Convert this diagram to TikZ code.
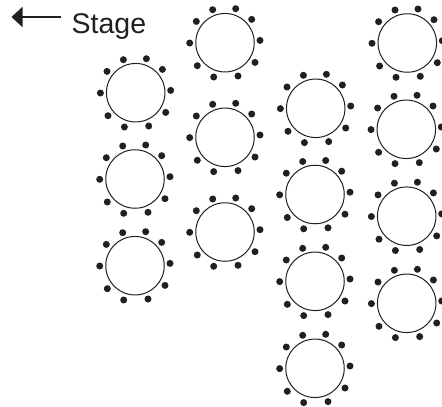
\documentclass[tikz,border=0pt]{standalone}
\usepackage{fontspec}
\setmainfont{Liberation Sans}
\usetikzlibrary{arrows.meta,calc}
\definecolor{ink}{HTML}{231F20}
\tikzset{
  seat/.style={circle,draw=ink,line width=1pt,minimum size=58.5pt,inner sep=0pt,fill=none},
  person/.style={circle,fill=ink,minimum size=7pt,inner sep=0pt,draw=none},
  stagelabel/.style={anchor=base west,inner sep=0pt,text=ink,font=\fontsize{28.5}{28.5}\selectfont},
  stagearrow/.style={draw=ink,line width=1.6pt,-{Triangle[length=11pt,width=20pt]}}
}
\newcommand{\seatgroup}[3]{%
  \node[seat] (#1) at (#2,#3) {};
  \foreach \dx/\dy [count=\i] in {-12.3/-33,10.7/-34,26.7/-23.3,35/-2.3,30/19.7,13/33.3,-11.3/34.3,-27.7/23,-35.3/0.3,-28.7/-21.3}{
    \node[person] (#1-\i) at ($(#2,#3)+(\dx,\dy)$) {};
  }%
}
\begin{document}
\begin{tikzpicture}[x=1pt,y=-1pt]
\path[use as bounding box] (0,0) rectangle (442,407);
\begin{scope}
\clip (0,0) rectangle (442,407);
\seatgroup{a1}{135.7}{92.7}
\seatgroup{a2}{135}{179}
\seatgroup{a3}{135}{265.7}
\seatgroup{b1}{225}{42.7}
\seatgroup{b2}{225}{137.3}
\seatgroup{b3}{225}{232}
\seatgroup{c1}{315.7}{108.3}
\seatgroup{c2}{315}{194.5}
\seatgroup{c3}{315}{281.3}
\seatgroup{d0}{315}{368.3}
\seatgroup{d1}{407.3}{43}
\seatgroup{d2}{406.3}{129.3}
\seatgroup{d3}{406.7}{216.2}
\seatgroup{d4}{406.7}{303.3}
\end{scope}
\coordinate (arrowstart) at (61,17);
\coordinate (arrowtip) at (11.5,17);
\draw[stagearrow] (arrowstart) -- (arrowtip);
\node[stagelabel] (stage) at (71.5,33.5) {Stage};
\end{tikzpicture}
\end{document}
